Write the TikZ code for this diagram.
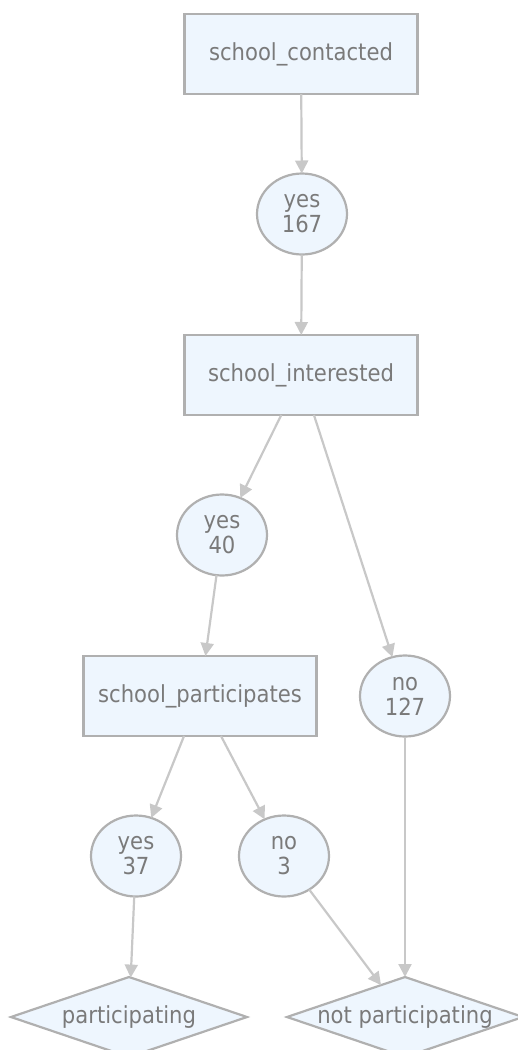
\documentclass[tikz,border=0pt]{standalone}
\usepackage{fontspec}
\setmainfont{DejaVu Sans Condensed}
\usetikzlibrary{shapes.geometric,arrows.meta}
\definecolor{nodefill}{HTML}{EEF6FE}
\definecolor{nodeline}{HTML}{B0B0B0}
\definecolor{edgeline}{HTML}{C8C8C8}
\definecolor{labeltext}{HTML}{7A7A7A}
\begin{document}
\begin{tikzpicture}[x=1pt,y=-1pt,
  base/.style={fill=nodefill,draw=nodeline,line width=2.2pt,text=labeltext,
    font=\fontsize{23.5}{25}\selectfont,inner sep=0pt,outer sep=0pt,align=center},
  question/.style={base,rectangle,minimum width=233pt,minimum height=80pt},
  answer/.style={base,ellipse,minimum width=90pt,minimum height=81pt},
  outcome/.style={base,diamond,aspect=2.95,inner sep=-3pt,minimum width=236pt,minimum height=80pt},
  flow/.style={draw=edgeline,line width=2.2pt,-{Triangle[length=13pt,width=13pt]}}]
\useasboundingbox (0,0) rectangle (518,1050);

\node[question] (contacted) at (301,54) {school\_contacted};
\node[answer] (yes167) at (302,214) {yes\\167};
\node[question] (interested) at (301,375) {school\_interested};
\node[answer] (yes40) at (222,535) {yes\\40};
\node[answer] (no127) at (405,696) {no\\127};
\node[question] (participates) at (200,696) {school\_participates};
\node[answer] (yes37) at (136,856) {yes\\37};
\node[answer] (no3) at (284,856) {no\\3};
\node[outcome] (part) at (129,1017) {participating};
\node[outcome] (notpart) at (405,1017) {not participating};

\draw[flow] (contacted) -- (yes167);
\draw[flow] (yes167) -- (interested);
\draw[flow] (interested) -- (yes40);
\draw[flow] (interested) -- (no127);
\draw[flow] (yes40) -- (participates);
\draw[flow] (participates) -- (yes37);
\draw[flow] (participates) -- (no3);
\draw[flow] (yes37) -- (part);
\draw[flow] (no3) -- (notpart);
\draw[flow] (no127) -- (notpart);
\end{tikzpicture}
\end{document}
